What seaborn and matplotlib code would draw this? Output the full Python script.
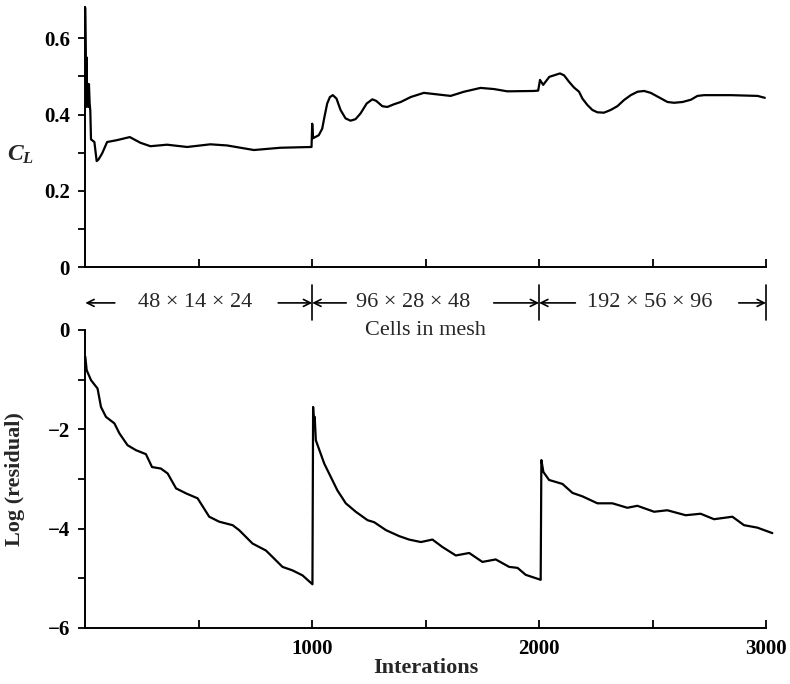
import pandas as pd
import seaborn as sns
import matplotlib.pyplot as plt
from matplotlib.ticker import MultipleLocator

# lift coefficient history
cl_iter = [0, 2, 4, 6, 8, 10, 13, 16, 19, 22, 25, 40, 50, 58, 74, 96, 140, 196, 243, 287,
           360, 449, 551, 625, 743, 860, 997, 1000, 1004, 1029, 1044, 1054, 1066, 1078, 1091,
           1107, 1125, 1147, 1169, 1191, 1213, 1240, 1265, 1282, 1309, 1331, 1360, 1390, 1434,
           1492, 1551, 1610, 1669, 1742, 1801, 1860, 1978, 1996, 2004, 2018, 2045, 2092, 2110,
           2132, 2154, 2176, 2191, 2213, 2235, 2257, 2286, 2315, 2345, 2374, 2404, 2434, 2463,
           2492, 2529, 2566, 2595, 2632, 2669, 2698, 2727, 2845, 2963, 2995]
cl_value = [0.68, 0.58, 0.42, 0.55, 0.43, 0.48, 0.42, 0.48, 0.43, 0.41, 0.335, 0.328, 0.278,
            0.282, 0.298, 0.328, 0.333, 0.341, 0.326, 0.317, 0.321, 0.315, 0.322, 0.319, 0.307,
            0.313, 0.315, 0.376, 0.338, 0.346, 0.363, 0.394, 0.429, 0.446, 0.451, 0.442, 0.412,
            0.390, 0.384, 0.388, 0.403, 0.429, 0.440, 0.436, 0.422, 0.420, 0.427, 0.433, 0.446,
            0.457, 0.453, 0.449, 0.460, 0.470, 0.467, 0.461, 0.462, 0.463, 0.491, 0.478, 0.499,
            0.508, 0.503, 0.486, 0.471, 0.460, 0.442, 0.425, 0.412, 0.406, 0.405, 0.412, 0.422,
            0.438, 0.451, 0.460, 0.462, 0.457, 0.445, 0.433, 0.431, 0.433, 0.439, 0.449, 0.451,
            0.451, 0.449, 0.444]

# log residual history (lower panel)
res_iter = [0, 6, 25, 54, 69, 91, 128, 150, 186, 223, 267, 294, 333, 363, 400, 444, 495, 546,
            590, 649, 678, 737, 796, 825, 869, 913, 957, 1001, 1004, 1008, 1011, 1016, 1053,
            1082, 1111, 1148, 1192, 1244, 1273, 1325, 1383, 1427, 1479, 1530, 1574, 1633, 1692,
            1750, 1809, 1868, 1905, 1941, 2007, 2010, 2019, 2044, 2103, 2147, 2191, 2257, 2323,
            2389, 2433, 2507, 2565, 2646, 2712, 2771, 2852, 2903, 2962, 3028]
res_value = [-0.54, -0.81, -1.01, -1.18, -1.55, -1.75, -1.88, -2.08, -2.32, -2.42, -2.50, -2.76,
             -2.79, -2.89, -3.19, -3.29, -3.39, -3.76, -3.86, -3.93, -4.03, -4.30, -4.44, -4.57,
             -4.77, -4.84, -4.94, -5.12, -1.55, -1.95, -1.75, -2.22, -2.69, -2.96, -3.23, -3.49,
             -3.66, -3.83, -3.87, -4.03, -4.15, -4.22, -4.27, -4.22, -4.37, -4.54, -4.49, -4.67,
             -4.62, -4.77, -4.79, -4.93, -5.03, -2.62, -2.86, -3.02, -3.10, -3.28, -3.35, -3.49,
             -3.49, -3.58, -3.54, -3.66, -3.63, -3.73, -3.70, -3.81, -3.76, -3.93, -3.98, -4.09]

# mesh stages
mesh_bounds = [1000, 2000, 3000]
mesh_labels = ["48 × 14 × 24", "96 × 28 × 48", "192 × 56 × 96"]
mesh_label_pos = [482, 1446, 2487]
arrow_tails = [130, 850, 1150, 1800, 2160, 2880]
arrow_heads = [0, 1000, 1000, 2000, 2000, 3000]

x_ticks = [500, 1000, 1500, 2000, 2500, 3000]
x_ticklabels = ["", "1000", "", "2000", "", "3000"]
cl_ticks = [0, 0.2, 0.4, 0.6]
cl_ticklabels = ["0", "0.2", "0.4", "0.6"]
res_ticks = [-6, -4, -2, 0]

cl_df = pd.DataFrame({"iteration": cl_iter, "cl": cl_value})
res_df = pd.DataFrame({"iteration": res_iter, "res": res_value})

sns.set_style("ticks")
plt.rcParams["font.family"] = ["Liberation Serif", "DejaVu Serif"]
plt.rcParams["mathtext.fontset"] = "custom"
plt.rcParams["mathtext.it"] = "Liberation Serif:italic:bold"
plt.rcParams["mathtext.rm"] = "Liberation Serif"

fig = plt.figure(figsize=(7.9, 6.84), dpi=100)
ax1 = fig.add_axes([0.108, 0.6096, 0.8616, 0.380])
ax2 = fig.add_axes([0.108, 0.0819, 0.8616, 0.4357])
ax2.patch.set_visible(False)

sns.lineplot(data=cl_df, x="iteration", y="cl", ax=ax1, color="black", lw=1.6,
             sort=False, estimator=None, clip_on=False)
sns.lineplot(data=res_df, x="iteration", y="res", ax=ax2, color="black", lw=1.6,
             sort=False, estimator=None, clip_on=False)

for ax in (ax1, ax2):
    ax.set_xlim(0, 3000)
    ax.set_xticks(x_ticks)
    sns.despine(ax=ax)
    for s in ("left", "bottom"):
        ax.spines[s].set_linewidth(1.4)
        ax.spines[s].set_color("black")
    ax.tick_params(axis="x", which="both", direction="in", length=6, width=1.3, colors="black")
    ax.tick_params(axis="y", which="both", direction="out", length=5, width=1.3, colors="black",
                   labelsize=15, pad=6)

# upper panel
ax1.set_ylim(0, 0.682)
ax1.set_yticks(cl_ticks)
ax1.set_yticklabels(cl_ticklabels, fontsize=15, fontweight="bold")
ax1.yaxis.set_minor_locator(MultipleLocator(0.1))
ax1.set_xticklabels([])
ax1.set_xlabel("")
ax1.set_ylabel("$C_L$", rotation=0, fontsize=17, ha="center", va="center")
ax1.yaxis.set_label_coords(-0.0945, 0.431)

# lower panel
ax2.set_ylim(-6, 0)
ax2.set_yticks(res_ticks)
ax2.yaxis.set_minor_locator(MultipleLocator(1))
for lab in ax2.get_yticklabels():
    lab.set_fontweight("bold")
    lab.set_fontsize(15)
ax2.set_xticklabels(x_ticklabels, fontsize=15, fontweight="bold")
ax2.tick_params(axis="x", pad=8)
ax2.set_xlabel("Interations", fontsize=16, fontweight="bold")
ax2.xaxis.set_label_coords(0.5, -0.10)
ax2.set_ylabel("Log (residual)", fontsize=16, fontweight="bold")
ax2.yaxis.set_label_coords(-0.089, 0.5)

# mesh annotation row between the panels
tr = ax1.get_xaxis_transform()
row_y = -0.138
for tail, head in zip(arrow_tails, arrow_heads):
    ax1.annotate("", xy=(head, row_y), xytext=(tail, row_y), xycoords=tr, textcoords=tr,
                 arrowprops=dict(arrowstyle="->,head_length=0.5,head_width=0.25",
                                 color="black", lw=1.2, shrinkA=0, shrinkB=0),
                 annotation_clip=False)
for b in mesh_bounds:
    ax1.plot([b, b], [-0.069, -0.204], transform=tr, color="black", lw=1.2, clip_on=False)
for pos, lab in zip(mesh_label_pos, mesh_labels):
    ax1.text(pos, row_y, lab, transform=tr, ha="center", va="center", fontsize=16)
ax1.text(1500, -0.246, "Cells in mesh", transform=tr, ha="center", va="center", fontsize=16)

fig.savefig("out.png", dpi=100)
